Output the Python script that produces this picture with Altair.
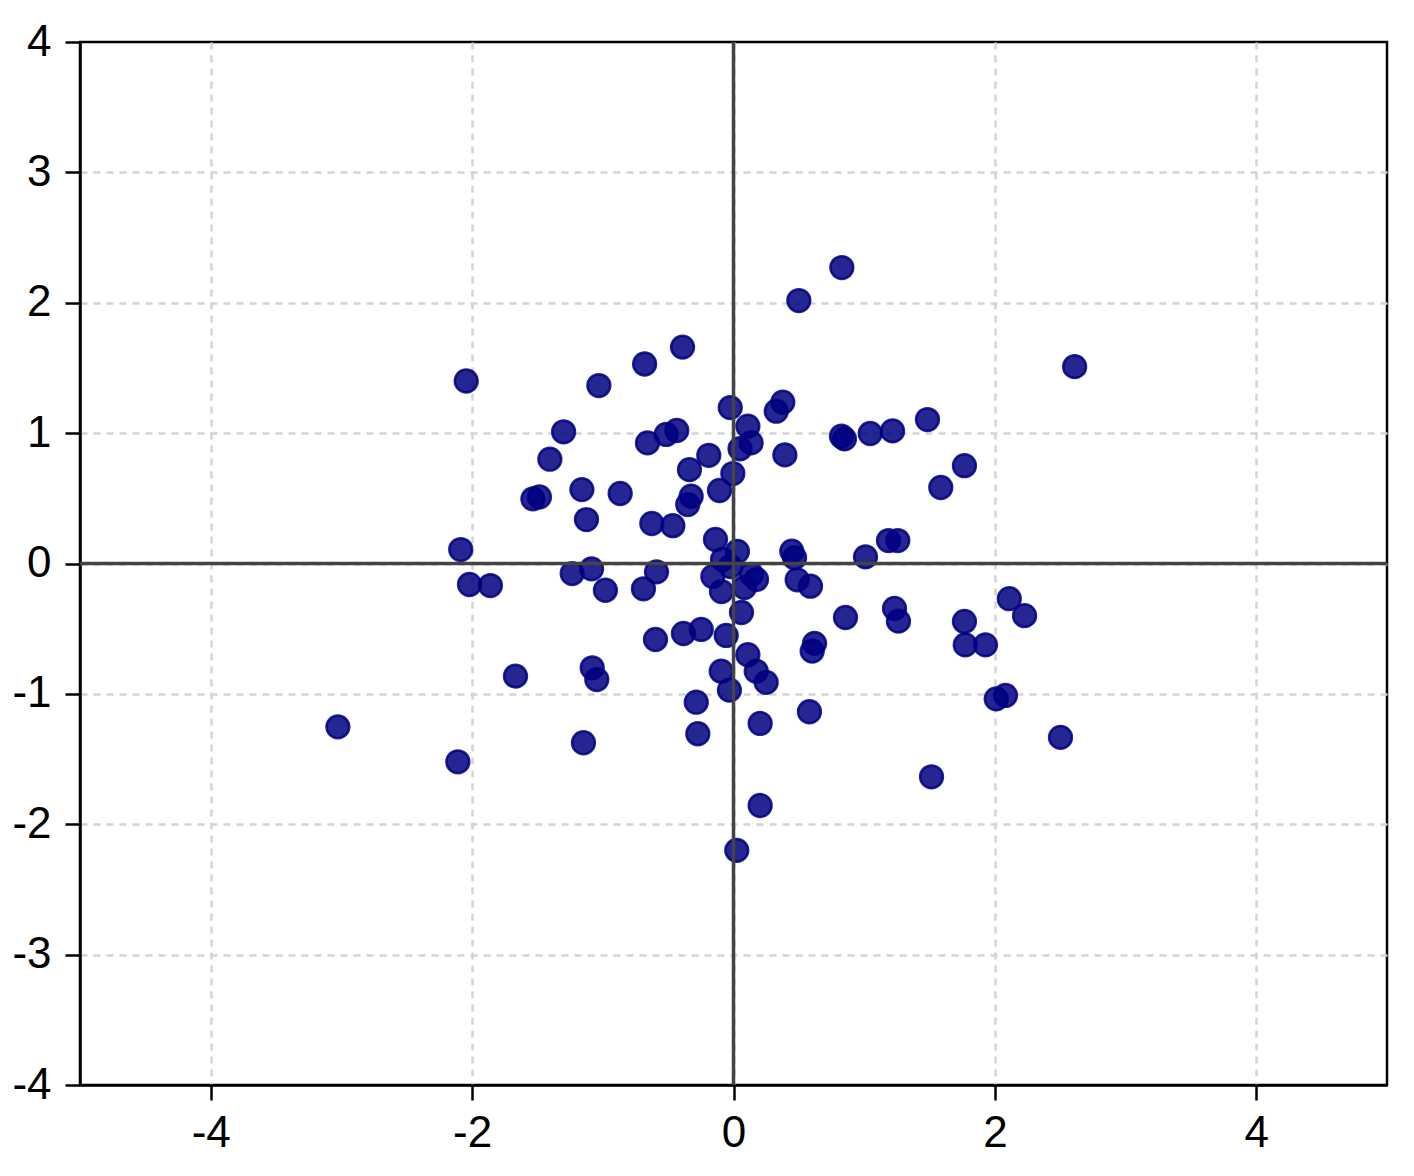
import altair as alt
import pandas as pd

xs = [-2.045, -1.03, -0.68, -0.39, -0.025, -1.30, -1.405, -0.658, -0.515, -0.434,
      -0.189, -0.337, 0.05, -0.005, -0.107, -1.535, -1.485, -1.16, -0.867, -1.125,
      -0.324, -0.35, -0.625, -0.464, -0.138, -2.087, -2.02, -1.86, -1.234, -1.086,
      -0.98, -0.689, -0.589, -0.158, 0.829, 0.50, 2.61, 0.377, 0.327, 0.11,
      0.135, 0.393, 0.826, 0.849, 1.046, 1.217, 1.484, 1.767, 1.586, 0.03,
      0.446, 0.467, 1.01, 1.186, 1.257, 0.487, 0.589, 0.138, 0.176, 2.11,
      2.227, 0.857, 1.232, 1.262, 1.767, 1.773, 1.928, 0.62, 0.602, 2.01,
      2.081, 2.502, 1.515, 0.581, 0.204, 0.204, 0.11, 0.174, 0.25, -0.084,
      -0.023, -0.092, 0.084, 0.061, -0.597, -0.383, -0.247, -0.056, -0.094, -0.031,
      -0.285, -0.273, -1.668, -1.081, -1.046, -1.148, -2.109, -3.027, 0.025]
ys = [1.40, 1.365, 1.53, 1.66, 1.196, 1.01, 0.80, 0.925, 0.99, 1.02,
      0.83, 0.72, 0.88, 0.69, 0.56, 0.496, 0.51, 0.567, 0.537, 0.337,
      0.516, 0.452, 0.307, 0.29, 0.184, 0.107, -0.161, -0.169, -0.077, -0.041,
      -0.205, -0.194, -0.064, -0.10, 2.27, 2.017, 1.51, 1.237, 1.168, 1.053,
      0.925, 0.833, 0.976, 0.956, 0.997, 1.017, 1.104, 0.75, 0.583, 0.092,
      0.094, 0.044, 0.051, 0.176, 0.176, -0.125, -0.174, -0.084, -0.123, -0.27,
      -0.40, -0.414, -0.345, -0.442, -0.445, -0.624, -0.624, -0.613, -0.672, -1.038,
      -1.012, -1.334, -1.636, -1.137, -1.227, -1.856, -0.70, -0.826, -0.912, 0.031,
      -0.023, -0.215, -0.184, -0.376, -0.583, -0.537, -0.506, -0.552, -0.826, -0.971,
      -1.064, -1.306, -0.864, -0.80, -0.89, -1.375, -1.521, -1.253, -2.20]

x_ticks = [-4, -2, 0, 2, 4]
y_ticks = [-4, -3, -2, -1, 0, 1, 2, 3, 4]
zero_line = [0]

df = pd.DataFrame({"x": xs, "y": ys})
zero = pd.DataFrame({"v": zero_line})

label_expr = "datum.value < 0 ? '-' + abs(datum.value) : '' + datum.value"

xscale = alt.Scale(domain=[-5, 5], nice=False, zero=False)
yscale = alt.Scale(domain=[-4, 4], nice=False, zero=False)

common_axis = dict(
    title=None, labelExpr=label_expr, grid=True,
    gridDash=[7, 6], gridColor="#d4d4d4", gridWidth=2.5,
    domainColor="black", domainWidth=2.5,
    tickColor="black", tickWidth=2.5, tickSize=15,
    labelFont="Liberation Sans", labelFontSize=44, labelColor="black",
)

xaxis = alt.Axis(values=x_ticks, labelPadding=11, **common_axis)
yaxis = alt.Axis(
    values=y_ticks, labelPadding=14,
    gridOpacity=alt.condition("abs(datum.value) >= 4", alt.value(0), alt.value(1)),
    **common_axis,
)

points = alt.Chart(df).mark_circle(
    size=520, fill="#000080", fillOpacity=0.85,
    stroke="#000080", strokeOpacity=0.85, strokeWidth=2.5,
).encode(
    x=alt.X("x:Q", scale=xscale, axis=xaxis),
    y=alt.Y("y:Q", scale=yscale, axis=yaxis),
)

vline = alt.Chart(zero).mark_rule(color="#444444", strokeWidth=3.5).encode(
    x=alt.X("v:Q", scale=xscale, axis=xaxis)
)
hline = alt.Chart(zero).mark_rule(color="#444444", strokeWidth=3.5).encode(
    y=alt.Y("v:Q", scale=yscale, axis=yaxis)
)

chart = alt.layer(points, vline, hline).properties(
    width=1307, height=1043,
    autosize=alt.AutoSizeParams(type="none"),
    padding={"left": 72, "top": 34, "right": 10, "bottom": 80},
).configure_view(stroke="black", strokeWidth=2.5)

chart.save("out.html", embed_options={"renderer": "svg", "actions": False})
